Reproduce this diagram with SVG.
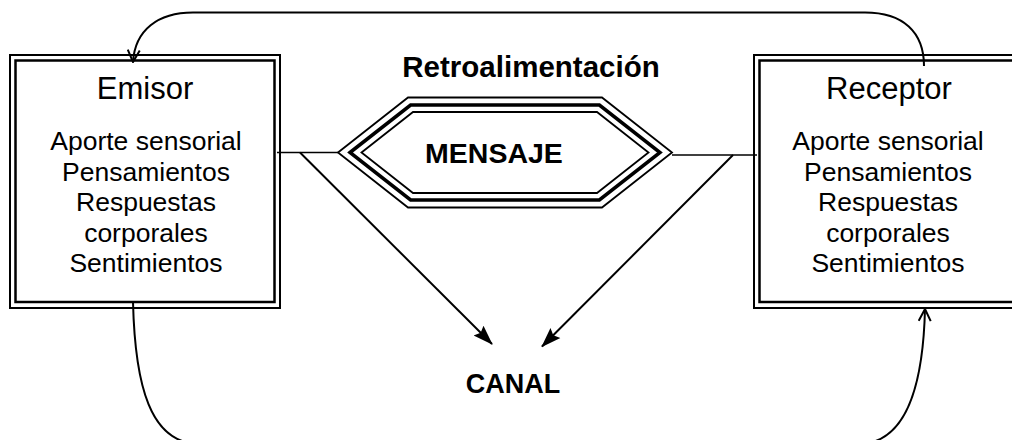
<svg xmlns="http://www.w3.org/2000/svg" width="1012" height="440" viewBox="0 0 1012 440">
<style>
  .bg{fill:#fff}
  .outer{fill:none;stroke:#000;stroke-width:2}
  .inner{fill:none;stroke:#000;stroke-width:2.5}
  .thin{fill:none;stroke:#000;stroke-width:1.8}
  .thick{fill:none;stroke:#000;stroke-width:3.5}
  .title{font-family:"Liberation Sans",Arial,sans-serif;font-size:31px;text-anchor:middle;fill:#000}
  .body{font-family:"Liberation Sans",Arial,sans-serif;font-size:26.5px;text-anchor:middle;fill:#000}
  .bold{font-family:"Liberation Sans",Arial,sans-serif;font-weight:bold;text-anchor:middle;fill:#000}
  .conn{fill:none;stroke:#000;stroke-width:2}
  .hline{fill:none;stroke:#000;stroke-width:1.6}
</style>
<defs>
  <marker id="solid" viewBox="0 0 20 16" refX="19" refY="8" markerWidth="20" markerHeight="16" markerUnits="userSpaceOnUse" orient="auto">
    <path d="M0,1 L20,8 L0,15 L3,8 z" fill="#000"/>
  </marker>
  <marker id="open" viewBox="0 0 14 14" refX="13" refY="7" markerWidth="14" markerHeight="14" markerUnits="userSpaceOnUse" orient="auto">
    <path d="M1,1 L13,7 L1,13" fill="none" stroke="#000" stroke-width="2"/>
  </marker>
</defs>
<rect class="bg" x="0" y="0" width="1012" height="440"/>

<g id="connectors">
  <line class="hline" x1="277" y1="152.5" x2="338" y2="152.5"/>
  <line class="hline" x1="672" y1="155" x2="757" y2="155"/>
  <line class="conn" x1="300" y1="152.5" x2="492" y2="344" marker-end="url(#solid)"/>
  <line class="conn" x1="733" y1="155" x2="542" y2="346.5" marker-end="url(#solid)"/>
  <path class="conn" d="M924,66 C924,32 903,12.5 865,12.5 L193,12.5 C158,12.5 135,30 133,62" marker-end="url(#open)"/>
  <path class="conn" d="M133,302 C135,385 150,444 200,444 L858,444 C905,444 923,390 925,309" marker-end="url(#open)"/>
</g>

<g id="emisor">
  <rect class="outer" x="10" y="55" width="270" height="253"/>
  <rect class="inner" x="15.5" y="60.5" width="259" height="241.5"/>
  <text class="title" x="145" y="99">Emisor</text>
  <text class="body" x="146" y="150">Aporte sensorial</text>
  <text class="body" x="146" y="180.5">Pensamientos</text>
  <text class="body" x="146" y="211">Respuestas</text>
  <text class="body" x="146" y="241.5">corporales</text>
  <text class="body" x="146" y="272">Sentimientos</text>
</g>

<g id="receptor">
  <rect class="outer" x="754" y="55" width="270" height="253"/>
  <rect class="inner" x="759.5" y="60.5" width="259" height="241.5"/>
  <text class="title" x="889" y="99">Receptor</text>
  <text class="body" x="888" y="150">Aporte sensorial</text>
  <text class="body" x="888" y="180.5">Pensamientos</text>
  <text class="body" x="888" y="211">Respuestas</text>
  <text class="body" x="888" y="241.5">corporales</text>
  <text class="body" x="888" y="272">Sentimientos</text>
</g>

<g id="mensaje">
  <polygon class="thin" points="338,152.5 408,97.5 602,97.5 672,152.5 602,207.5 408,207.5"/>
  <polygon class="thick" points="350,152.5 410.6,105 599.4,105 660,152.5 599.4,200 410.6,200"/>
  <polygon class="thin" points="361.5,152.5 413,112 597,112 648.5,152.5 597,193 413,193"/>
  <text class="bold" x="494" y="163" font-size="28.5">MENSAJE</text>
</g>

<g id="retroalimentacion">
  <text class="bold" x="531" y="76.5" font-size="29.5">Retroalimentación</text>
</g>

<g id="canal">
  <text class="bold" x="513" y="393" font-size="27">CANAL</text>
</g>
</svg>
